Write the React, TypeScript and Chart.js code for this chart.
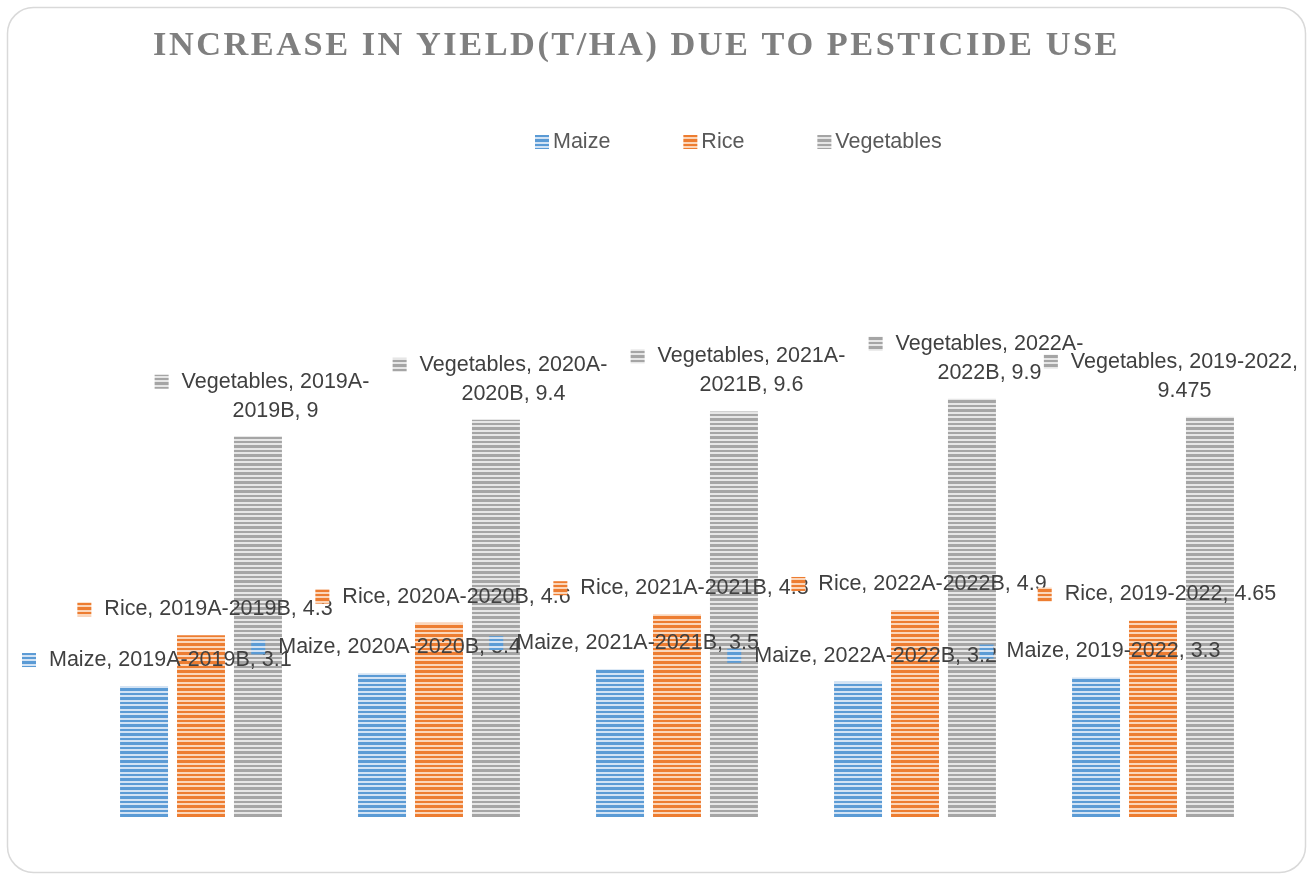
import React, { useEffect, useRef } from "react";
import { Chart, registerables } from "chart.js";

Chart.register(...registerables);

const TITLE = "INCREASE IN YIELD(T/HA) DUE TO PESTICIDE USE";
const categories = ["2019A-2019B", "2020A-2020B", "2021A-2021B", "2022A-2022B", "2019-2022"];
const seriesNames = ["Maize", "Rice", "Vegetables"];
const maize = [3.1, 3.4, 3.5, 3.2, 3.3];
const rice = [4.3, 4.6, 4.8, 4.9, 4.65];
const vegetables = [9, 9.4, 9.6, 9.9, 9.475];
const seriesColors = ["#5b9bd5", "#ed7d31", "#a5a5a5"];
const seriesLight = ["#d3e3f4", "#fbd6ba", "#e6e6e6"];

function makePattern(fg: string, bg: string): CanvasPattern | string {
  const c = document.createElement("canvas");
  c.width = 9;
  c.height = 9;
  const g = c.getContext("2d");
  if (!g) return fg;
  g.fillStyle = bg;
  g.fillRect(0, 0, 9, 9);
  g.fillStyle = fg;
  const rows = [0, 1, 4, 5, 6];
  rows.forEach((r) => g.fillRect(0, r, 9, 1));
  const p = g.createPattern(c, "repeat");
  return p || fg;
}

function wrap(ctx: CanvasRenderingContext2D, text: string, maxW: number): string[] {
  const tokens = text.match(/[^\s-]+-|[^\s-]+\s*|\s+/g) || [text];
  const lines: string[] = [];
  let cur = "";
  for (const t of tokens) {
    const trial = cur + t;
    if (cur && ctx.measureText(trial.trim()).width > maxW) {
      lines.push(cur.trim());
      cur = t;
    } else {
      cur = trial;
    }
  }
  if (cur.trim()) lines.push(cur.trim());
  return lines;
}

const LABEL_FONT = '21.5px "Liberation Sans", Arial, sans-serif';

const decorPlugin = {
  id: "decor",
  beforeDraw(chart: any) {
    const ctx: CanvasRenderingContext2D = chart.ctx;
    ctx.save();
    ctx.fillStyle = "#ffffff";
    ctx.fillRect(0, 0, chart.width, chart.height);
    ctx.beginPath();
    (ctx as any).roundRect(7.5, 7.5, 1298, 865, 26);
    ctx.strokeStyle = "#d9d9d9";
    ctx.lineWidth = 1.5;
    ctx.stroke();
    ctx.restore();
  },
  afterDatasetsDraw(chart: any) {
    const ctx: CanvasRenderingContext2D = chart.ctx;
    ctx.save();
    ctx.font = LABEL_FONT;
    ctx.textBaseline = "middle";
    ctx.textAlign = "center";
    chart.data.datasets.forEach((ds: any, i: number) => {
      const meta = chart.getDatasetMeta(i);
      meta.data.forEach((el: any, j: number) => {
        const text = `${ds.label}, ${chart.data.labels[j]}, ${ds.data[j]}`;
        const lines = wrap(ctx, text, 250);
        const W = Math.max(...lines.map((l) => ctx.measureText(l).width));
        const box = 14;
        const gap = 13;
        const total = box + gap + W;
        let left = el.x + 4 - total / 2;
        if (left < 22) left = 22;
        if (left + total > 1298) left = 1298 - total;
        const cx = left + box + gap + W / 2;
        const lineH = 29;
        const lastY = el.y - 26;
        const firstY = lastY - (lines.length - 1) * lineH;
        ctx.fillStyle = ds.backgroundColor;
        ctx.fillRect(left, firstY - 7, box, box);
        ctx.fillStyle = "#404040";
        lines.forEach((l, k) => ctx.fillText(l, cx, firstY + k * lineH));
      });
    });
    ctx.restore();
  },
  afterDraw(chart: any) {
    const ctx: CanvasRenderingContext2D = chart.ctx;
    ctx.save();
    // title
    ctx.font = 'bold 34px "Liberation Serif", "Times New Roman", serif';
    (ctx as any).letterSpacing = "2.5px";
    ctx.textBaseline = "alphabetic";
    ctx.textAlign = "left";
    ctx.fillStyle = "#7f7f7f";
    const tw = ctx.measureText(TITLE).width;
    const targetW = 967;
    const sx = targetW / tw;
    ctx.save();
    ctx.translate(153, 55);
    ctx.scale(sx, 1);
    ctx.fillText(TITLE, 0, 0);
    ctx.restore();
    (ctx as any).letterSpacing = "0px";
    // legend
    ctx.font = LABEL_FONT;
    ctx.textBaseline = "middle";
    let x = 535;
    const y = 142;
    chart.data.datasets.forEach((ds: any) => {
      ctx.fillStyle = ds.backgroundColor;
      ctx.fillRect(x, y - 7, 14, 14);
      ctx.fillStyle = "#595959";
      ctx.fillText(ds.label, x + 18, y);
      x += 18 + ctx.measureText(ds.label).width + 73;
    });
    ctx.restore();
  },
};

export default function App() {
  const ref = useRef<HTMLCanvasElement>(null);
  useEffect(() => {
    if (!ref.current) return;
    const values = [maize, rice, vegetables];
    const chart = new Chart(ref.current, {
      type: "bar",
      data: {
        labels: categories,
        datasets: seriesNames.map((name, i) => ({
          label: name,
          data: values[i],
          backgroundColor: makePattern(seriesColors[i], seriesLight[i]) as any,
          borderWidth: 0,
          barPercentage: 0.842,
          categoryPercentage: 0.718,
        })),
      },
      options: {
        responsive: false,
        animation: false,
        devicePixelRatio: 1,
        layout: { padding: { left: 82, right: 35, top: 310, bottom: 57 } },
        scales: {
          x: { display: false },
          y: { display: false, min: 0, max: 12 },
        },
        plugins: {
          legend: { display: false },
          title: { display: false },
          tooltip: { enabled: false },
        },
      },
      plugins: [decorPlugin],
    });
    return () => chart.destroy();
  }, []);
  return (
    <div style={{ position: "absolute", left: 0, top: 0, width: 1307, height: 874, overflow: "hidden" }}>
      <canvas ref={ref} width={1307} height={874} style={{ display: "block" }} />
    </div>
  );
}
